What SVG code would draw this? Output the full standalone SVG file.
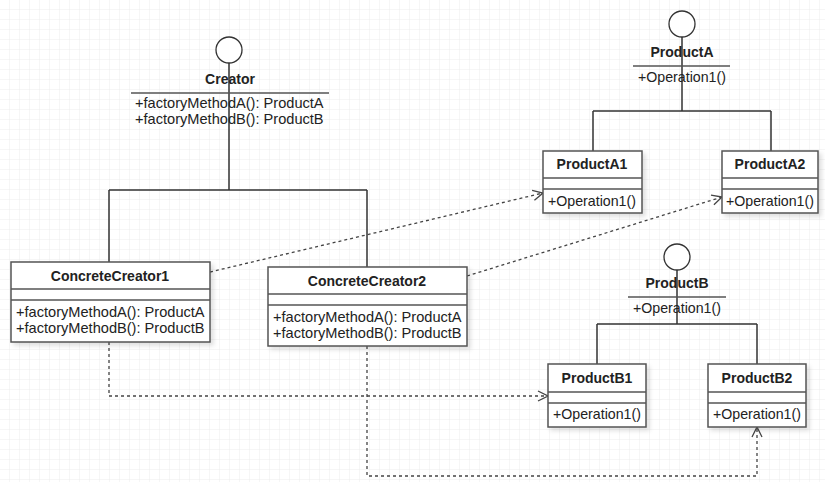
<svg xmlns="http://www.w3.org/2000/svg" width="825" height="482" viewBox="0 0 825 482">
<defs>
<pattern id="grid" width="10" height="10" patternUnits="userSpaceOnUse">
<path d="M10 0 V10 M0 10 H10" fill="none" stroke="#ececec" stroke-width="1"/>
</pattern>
<marker id="open" viewBox="0 0 12 12" refX="11" refY="6" markerWidth="12" markerHeight="12" markerUnits="userSpaceOnUse" orient="auto">
<path d="M1 1 L11 6 L1 11" fill="none" stroke="#444" stroke-width="1.3"/>
</marker>
<filter id="sh" x="-10%" y="-10%" width="130%" height="140%">
<feDropShadow dx="3" dy="3" stdDeviation="2" flood-color="#000" flood-opacity="0.12"/>
</filter>
</defs>
<style>
.box{fill:#fff;stroke:#555;stroke-width:1.5;filter:url(#sh)}
.sep{stroke:#555;stroke-width:1.3}
.t{font-family:"Liberation Sans",Arial,sans-serif;font-size:14.6px;fill:#222}
.op{font-size:14.2px}
.b{font-weight:bold;text-anchor:middle;font-size:14px}
.tree{fill:none;stroke:#333;stroke-width:1.5}
.dash{fill:none;stroke:#444;stroke-width:1.3;stroke-dasharray:3 3}
.ball{fill:#fff;stroke:#333;stroke-width:1.3}
</style>
<rect width="825" height="482" fill="#fff"/>
<rect width="825" height="482" fill="url(#grid)"/>

<g id="connectors">
<path class="tree" d="M229 63 V190 M109 190 H367 M109 190 V262 M367 190 V267"/>
<path class="tree" d="M682 37 V111 M593 111 H771 M593 111 V151 M771 111 V151"/>
<path class="tree" d="M677 270 V324 M597 324 H757 M597 324 V364 M757 324 V364"/>
<path class="dash" d="M210 272 L543 193" marker-end="url(#open)"/>
<path class="dash" d="M467 276 L722 197" marker-end="url(#open)"/>
<path class="dash" d="M109 342 V396 H548" marker-end="url(#open)"/>
<path class="dash" d="M367 346 V476 H757 V427" marker-end="url(#open)"/>
</g>

<g id="Creator">
<circle class="ball" cx="229" cy="50" r="13"/>
<text class="t b" x="230" y="84">Creator</text>
<line class="sep" x1="131" y1="93" x2="329" y2="93"/>
<text class="t" x="135" y="108">+factoryMethodA(): ProductA</text>
<text class="t" x="135" y="124">+factoryMethodB(): ProductB</text>
</g>

<g id="ConcreteCreator1">
<rect class="box" x="11" y="262" width="199" height="80"/>
<line class="sep" x1="11" y1="289" x2="210" y2="289"/>
<line class="sep" x1="11" y1="300" x2="210" y2="300"/>
<text class="t b" x="110" y="281">ConcreteCreator1</text>
<text class="t" x="16" y="317">+factoryMethodA(): ProductA</text>
<text class="t" x="16" y="333">+factoryMethodB(): ProductB</text>
</g>

<g id="ConcreteCreator2">
<rect class="box" x="268" y="267" width="199" height="79"/>
<line class="sep" x1="268" y1="294" x2="467" y2="294"/>
<line class="sep" x1="268" y1="305" x2="467" y2="305"/>
<text class="t b" x="367" y="286">ConcreteCreator2</text>
<text class="t" x="273" y="322">+factoryMethodA(): ProductA</text>
<text class="t" x="273" y="338">+factoryMethodB(): ProductB</text>
</g>

<g id="ProductA">
<circle class="ball" cx="682" cy="24" r="13"/>
<text class="t b" x="682" y="57">ProductA</text>
<line class="sep" x1="633" y1="66" x2="730" y2="66"/>
<text class="t op" x="638" y="82">+Operation1()</text>
</g>

<g id="ProductA1">
<rect class="box" x="543" y="151" width="99" height="62"/>
<line class="sep" x1="543" y1="178" x2="642" y2="178"/>
<line class="sep" x1="543" y1="189" x2="642" y2="189"/>
<text class="t b" x="592" y="169">ProductA1</text>
<text class="t op" x="548" y="206">+Operation1()</text>
</g>

<g id="ProductA2">
<rect class="box" x="722" y="151" width="96" height="62"/>
<line class="sep" x1="722" y1="178" x2="818" y2="178"/>
<line class="sep" x1="722" y1="189" x2="818" y2="189"/>
<text class="t b" x="770" y="169">ProductA2</text>
<text class="t op" x="726" y="206">+Operation1()</text>
</g>

<g id="ProductB">
<circle class="ball" cx="677" cy="257" r="13"/>
<text class="t b" x="677" y="288">ProductB</text>
<line class="sep" x1="628" y1="297" x2="726" y2="297"/>
<text class="t op" x="633" y="313">+Operation1()</text>
</g>

<g id="ProductB1">
<rect class="box" x="548" y="364" width="98" height="63"/>
<line class="sep" x1="548" y1="392" x2="646" y2="392"/>
<line class="sep" x1="548" y1="403" x2="646" y2="403"/>
<text class="t b" x="597" y="383">ProductB1</text>
<text class="t op" x="553" y="419">+Operation1()</text>
</g>

<g id="ProductB2">
<rect class="box" x="708" y="364" width="98" height="63"/>
<line class="sep" x1="708" y1="392" x2="806" y2="392"/>
<line class="sep" x1="708" y1="403" x2="806" y2="403"/>
<text class="t b" x="757" y="383">ProductB2</text>
<text class="t op" x="713" y="419">+Operation1()</text>
</g>
</svg>
